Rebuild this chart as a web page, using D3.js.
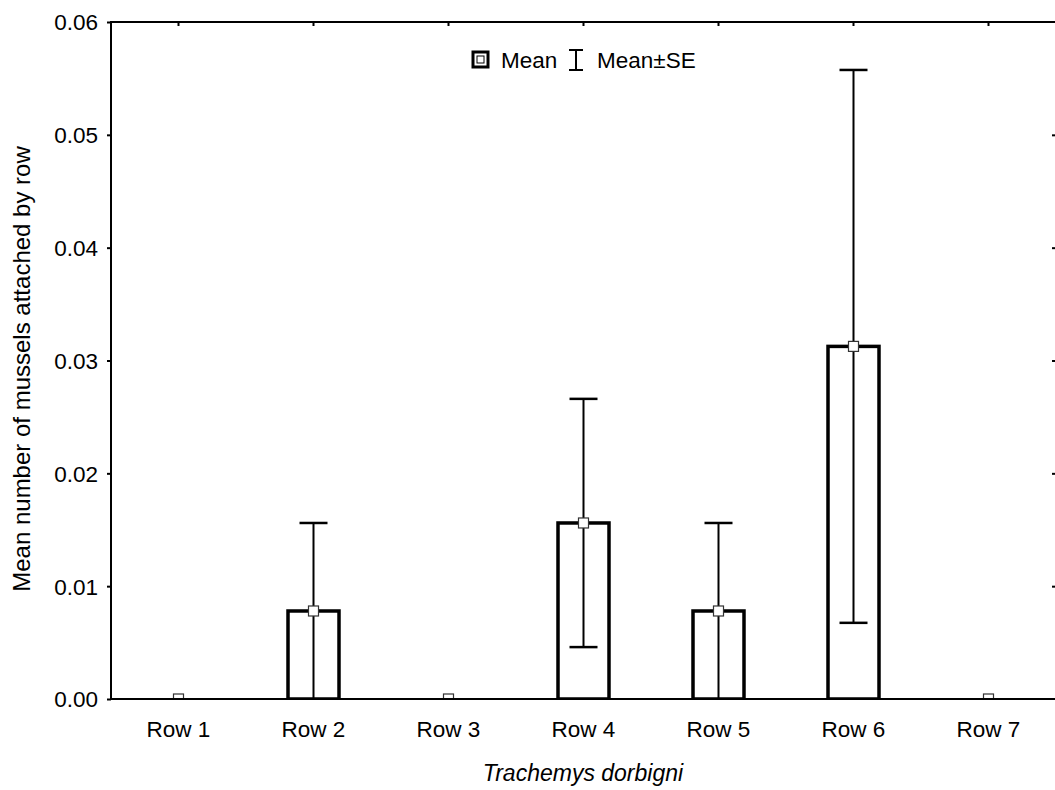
<!DOCTYPE html>
<html>
<head>
<meta charset="utf-8">
<script src="https://cdn.jsdelivr.net/npm/d3@7"></script>
<style>
  html, body { margin: 0; padding: 0; background: #fff; }
  svg text { font-family: "Liberation Sans", Arial, sans-serif; fill: #000; }
</style>
</head>
<body>
<svg id="chart" width="1055" height="790"></svg>
<script>
// Mean number of mussels attached per carapace row, with standard errors
const rows = ["Row 1", "Row 2", "Row 3", "Row 4", "Row 5", "Row 6", "Row 7"];
const means = [0, 0.0078, 0, 0.0156, 0.0078, 0.03125, 0];
const se = [0, 0.0078, 0, 0.011, 0.0078, 0.0245, 0];
const yTicks = [0, 0.01, 0.02, 0.03, 0.04, 0.05, 0.06];

const svg = d3.select("#chart");
const margin = { left: 111, right: -1, top: 22, bottom: 91 };
const W = 1055, H = 790;
const x0 = margin.left, x1 = W - margin.right;
const y0 = H - margin.bottom, y1 = margin.top;
const FS = "22.5px";

const x = d3.scaleBand().domain(rows).range([x0, x1]).padding(0);
const y = d3.scaleLinear().domain([0, 0.06]).range([y0, y1]);

const data = rows.map((r, i) => ({ row: r, mean: means[i], se: se[i] }));

svg.append("defs").append("clipPath").attr("id", "plot-clip")
  .append("rect").attr("x", x0).attr("y", y1).attr("width", x1 - x0).attr("height", y0 - y1);

const g = svg.append("g");

// Left axis: outward ticks with labels
const yAxis = d3.axisLeft(y).tickValues(yTicks).tickFormat(d3.format(".2f")).tickSize(4).tickPadding(9);
const ya = g.append("g").attr("transform", `translate(${x0},0)`).call(yAxis);
ya.select(".domain").remove();
ya.selectAll(".tick line").attr("stroke", "#000").attr("stroke-width", 2);
ya.selectAll(".tick text").style("font-size", FS).attr("dy", "0.35em");

// Right axis: inward ticks
const ra = g.append("g").attr("transform", `translate(${x1},0)`)
  .call(d3.axisRight(y).tickValues(yTicks.slice(1, -1)).tickSize(-4).tickFormat(""));
ra.select(".domain").remove();
ra.selectAll(".tick line").attr("stroke", "#000").attr("stroke-width", 2);

// Bottom axis labels
const xa = g.append("g").attr("transform", `translate(0,${y0})`)
  .call(d3.axisBottom(x).tickSize(0).tickPadding(22));
xa.select(".domain").remove();
xa.selectAll(".tick text").style("font-size", FS);

// Top axis: inward ticks at category centres
const ta = g.append("g").attr("transform", `translate(0,${y1})`)
  .call(d3.axisTop(x).tickSize(-4).tickFormat(""));
ta.select(".domain").remove();
ta.selectAll(".tick line").attr("stroke", "#000").attr("stroke-width", 2);

// Plot contents, clipped to the frame
const pg = g.append("g").attr("clip-path", "url(#plot-clip)");

// Bars
const barW = 51;
const cx = d => x(d.row) + x.bandwidth() / 2;
pg.append("g").selectAll("rect").data(data).join("rect")
  .attr("x", d => cx(d) - barW / 2)
  .attr("y", d => y(d.mean))
  .attr("width", barW)
  .attr("height", d => y(0) - y(d.mean))
  .attr("fill", "#fff").attr("stroke", "#000").attr("stroke-width", 3.5);

// Error bars
const capW = 28;
const eb = pg.append("g");
const withErr = data.filter(d => d.se > 0);
eb.selectAll("line.v").data(withErr).join("line").attr("class", "v")
  .attr("x1", cx).attr("x2", cx)
  .attr("y1", d => y(Math.max(0, d.mean - d.se)))
  .attr("y2", d => y(d.mean + d.se))
  .attr("stroke", "#000").attr("stroke-width", 2);
eb.selectAll("line.top").data(withErr).join("line").attr("class", "top")
  .attr("x1", d => cx(d) - capW / 2).attr("x2", d => cx(d) + capW / 2)
  .attr("y1", d => y(d.mean + d.se)).attr("y2", d => y(d.mean + d.se))
  .attr("stroke", "#000").attr("stroke-width", 2.5);
eb.selectAll("line.bot").data(withErr.filter(d => d.mean - d.se > 0)).join("line").attr("class", "bot")
  .attr("x1", d => cx(d) - capW / 2).attr("x2", d => cx(d) + capW / 2)
  .attr("y1", d => y(d.mean - d.se)).attr("y2", d => y(d.mean - d.se))
  .attr("stroke", "#000").attr("stroke-width", 2.5);

// Mean markers
const mk = 10;
pg.append("g").selectAll("rect").data(data).join("rect")
  .attr("x", d => cx(d) - mk / 2)
  .attr("y", d => y(d.mean) - mk / 2)
  .attr("width", mk).attr("height", mk)
  .attr("fill", "#fff").attr("stroke", "#333").attr("stroke-width", 1.2);

// Frame
g.append("rect")
  .attr("x", x0).attr("y", y1)
  .attr("width", x1 - x0).attr("height", y0 - y1)
  .attr("fill", "none").attr("stroke", "#000").attr("stroke-width", 2);

// Legend
const lg = svg.append("g").attr("transform", "translate(0,60)");
lg.append("rect").attr("x", 473).attr("y", -8).attr("width", 15).attr("height", 15)
  .attr("fill", "#fff").attr("stroke", "#000").attr("stroke-width", 3);
lg.append("rect").attr("x", 477).attr("y", -4).attr("width", 7).attr("height", 7)
  .attr("fill", "#fff").attr("stroke", "#000").attr("stroke-width", 1);
lg.append("text").attr("x", 501).attr("y", 8).style("font-size", FS).text("Mean");
lg.append("line").attr("x1", 576).attr("x2", 576).attr("y1", -10).attr("y2", 10)
  .attr("stroke", "#000").attr("stroke-width", 2);
lg.append("line").attr("x1", 569).attr("x2", 583).attr("y1", -10).attr("y2", -10)
  .attr("stroke", "#000").attr("stroke-width", 2);
lg.append("line").attr("x1", 569).attr("x2", 583).attr("y1", 10).attr("y2", 10)
  .attr("stroke", "#000").attr("stroke-width", 2);
lg.append("text").attr("x", 597).attr("y", 8).style("font-size", FS).text("Mean±SE");

// Axis titles
svg.append("text")
  .attr("transform", "translate(30,369) rotate(-90)")
  .attr("text-anchor", "middle")
  .style("font-size", "24px")
  .text("Mean number of mussels attached by row");
svg.append("text")
  .attr("x", 583).attr("y", 781)
  .attr("text-anchor", "middle")
  .style("font-size", "23px").style("font-style", "italic")
  .text("Trachemys dorbigni");
</script>
</body>
</html>
